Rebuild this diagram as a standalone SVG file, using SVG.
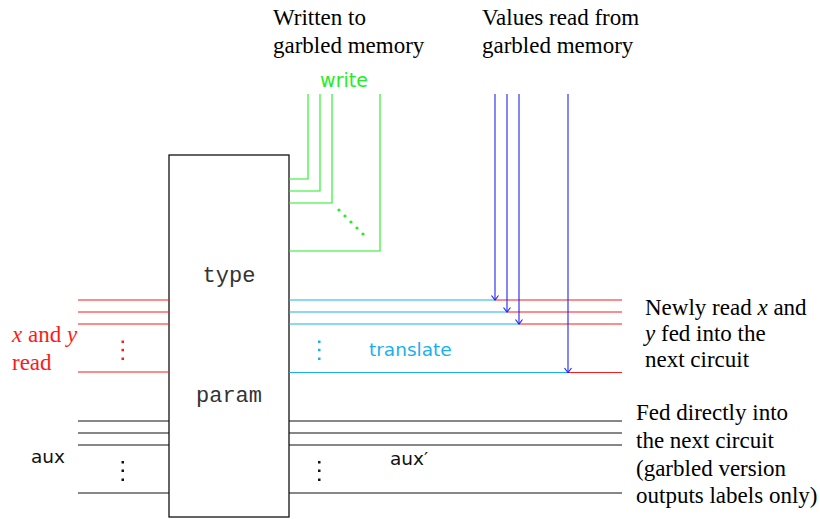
<svg xmlns="http://www.w3.org/2000/svg" width="820" height="519" viewBox="0 0 820 519">
<style>
.serif{font-family:"Liberation Serif","Times New Roman",serif;font-size:23px;fill:#000}
.it{font-style:italic}
.mono{font-family:"Liberation Mono","Courier New",monospace;font-size:22px;fill:#333}
.sans{font-family:"DejaVu Sans",sans-serif;font-size:18.5px}
.g{stroke:#22ee22;fill:none;stroke-width:1.1}
.b{stroke:#2222ee;fill:none;stroke-width:1.1}
.c{stroke:#1ab0ee;fill:none;stroke-width:1.1}
.r{stroke:#ff1a1a;fill:none;stroke-width:1.1}
.k{stroke:#111;fill:none;stroke-width:1.1}
</style>
<defs>
<marker id="ah" markerWidth="10" markerHeight="10" refX="0" refY="0" viewBox="-6 -5 8 10" orient="auto" markerUnits="userSpaceOnUse">
<path d="M-4.5,-3.5 L0,0 L-4.5,3.5" fill="none" stroke="#2222ee" stroke-width="1.1"/>
</marker>
</defs>
<g id="box">
<rect x="169" y="155" width="120" height="362" fill="#fff" stroke="#111" stroke-width="1.3"/>
<text class="mono" x="229" y="282" text-anchor="middle">type</text>
<text class="mono" x="229" y="402" text-anchor="middle">param</text>
</g>
<g id="connectors">
<path class="g" d="M308,94 V179 H289 M320,94 V191 H289 M332,94 V203 H289 M380,94 V251 H289"/>
<path class="r" d="M78,300 H169 M78,312 H169 M78,324 H169 M78,372 H169"/>
<path class="c" d="M289,300 H495 M289,312 H507 M289,324 H519 M289,372.5 H568"/>
<path class="r" d="M495,300 H622 M507,312 H622 M519,324 H622 M568,372.5 H622"/>
<path class="b" d="M495,94 V300" marker-end="url(#ah)"/>
<path class="b" d="M507,94 V312" marker-end="url(#ah)"/>
<path class="b" d="M519,94 V324" marker-end="url(#ah)"/>
<path class="b" d="M568,94 V372.5" marker-end="url(#ah)"/>
<path class="k" d="M78,421 H169 M78,433 H169 M78,445 H169 M78,493 H169"/>
<path class="k" d="M289,421 H622 M289,433 H622 M289,445 H622 M289,493 H622"/>
</g>
<g id="dots">
<g fill="#22ee22">
<circle cx="339" cy="210" r="1.6"/><circle cx="345" cy="216" r="1.6"/><circle cx="351" cy="222" r="1.6"/><circle cx="357" cy="228" r="1.6"/><circle cx="363" cy="234" r="1.6"/>
</g>
<g fill="#ff1a1a"><rect x="121.5" y="340.5" width="2.5" height="2.5"/><rect x="121.5" y="348.8" width="2.5" height="2.5"/><rect x="121.5" y="357.5" width="2.5" height="2.5"/></g>
<g fill="#1ab0ee"><rect x="318" y="340.5" width="2.5" height="2.5"/><rect x="318" y="348.8" width="2.5" height="2.5"/><rect x="318" y="357.5" width="2.5" height="2.5"/></g>
<g fill="#111"><rect x="121.5" y="461" width="2.5" height="2.5"/><rect x="121.5" y="469.5" width="2.5" height="2.5"/><rect x="121.5" y="478.5" width="2.5" height="2.5"/></g>
<g fill="#111"><rect x="318" y="461" width="2.5" height="2.5"/><rect x="318" y="469.5" width="2.5" height="2.5"/><rect x="318" y="478.5" width="2.5" height="2.5"/></g>
</g>
<g id="labels">
<text class="serif" x="273" y="25">Written to</text>
<text class="serif" x="273" y="53">garbled memory</text>
<text class="serif" x="482" y="25">Values read from</text>
<text class="serif" x="482" y="53">garbled memory</text>
<text class="sans" x="344" y="87" text-anchor="middle" fill="#22ee22" style="font-size:19px">write</text>
<text class="sans" x="369" y="356" fill="#1ab0ee">translate</text>
<text class="sans" x="31" y="463" fill="#111">aux</text>
<text class="sans" x="390" y="465" fill="#111">aux′</text>
<text class="serif" x="12" y="342" style="fill:#ff1a1a"><tspan class="it">x</tspan> and <tspan class="it">y</tspan></text>
<text class="serif" x="12" y="370" style="fill:#ff1a1a">read</text>
<text class="serif" x="645" y="315">Newly read <tspan class="it">x</tspan> and</text>
<text class="serif" x="645" y="341"><tspan class="it">y</tspan> fed into the</text>
<text class="serif" x="645" y="367">next circuit</text>
<text class="serif" x="636" y="420">Fed directly into</text>
<text class="serif" x="636" y="448">the next circuit</text>
<text class="serif" x="636" y="476">(garbled version</text>
<text class="serif" x="636" y="503">outputs labels only)</text>
</g>
</svg>
